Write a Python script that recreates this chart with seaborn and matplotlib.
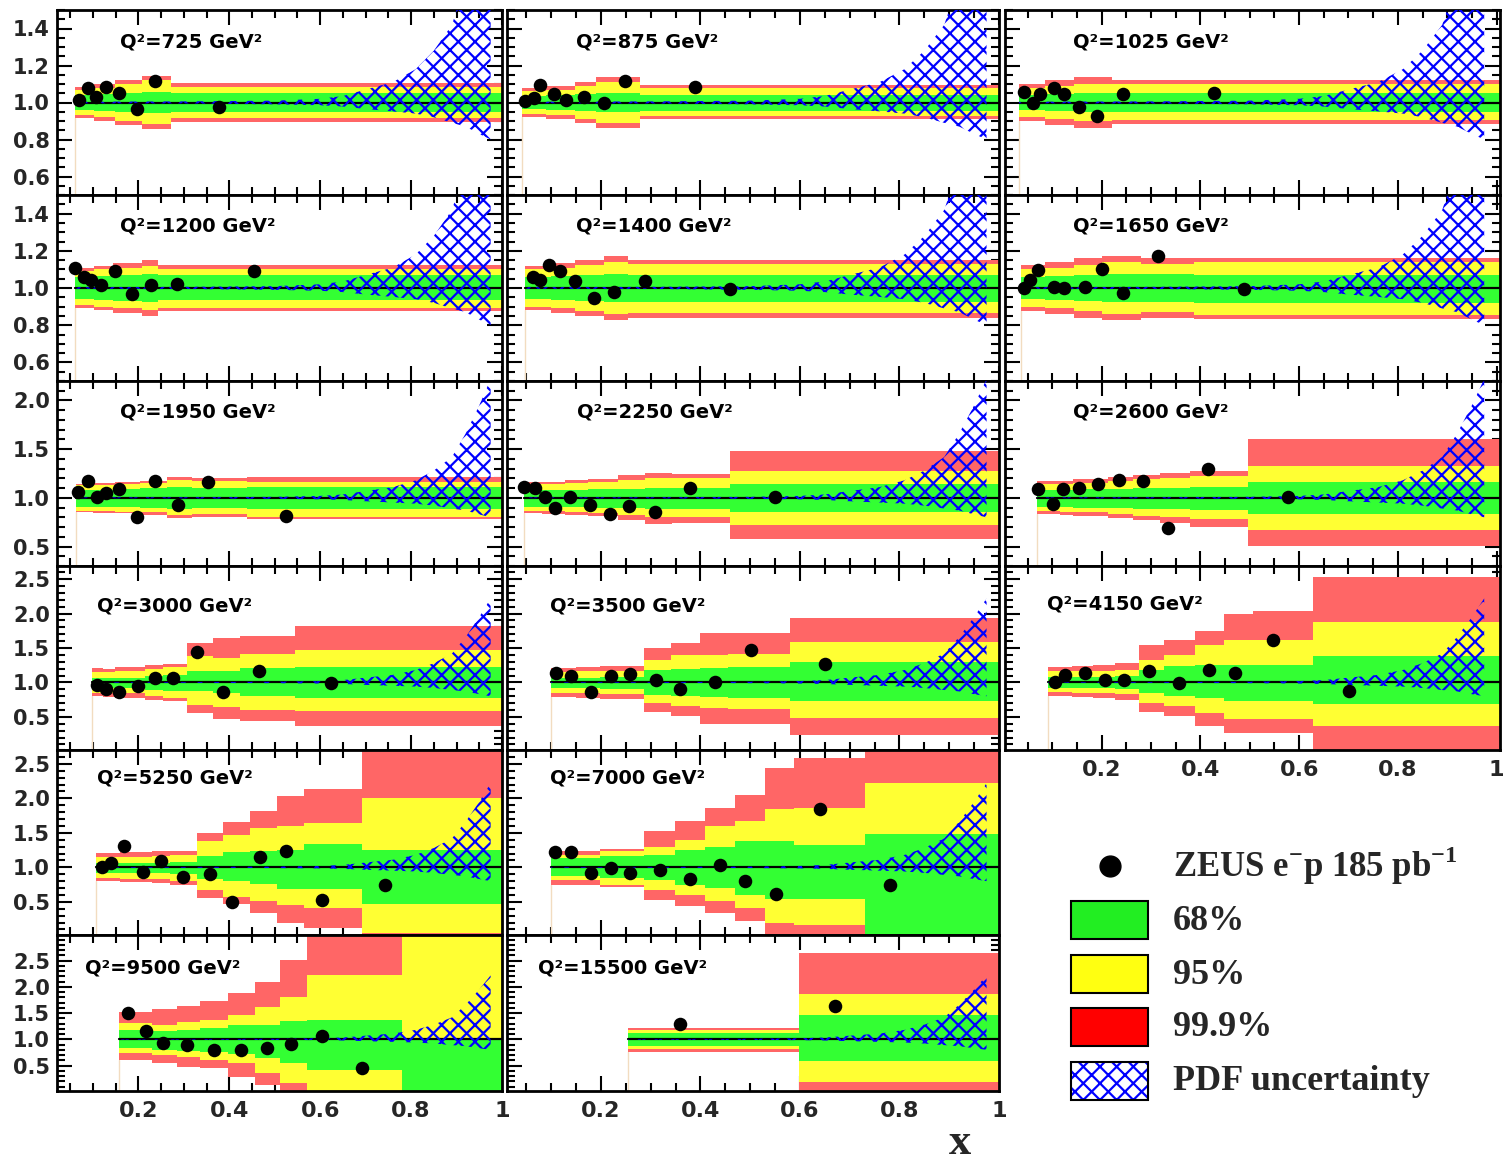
import numpy as np
import matplotlib
matplotlib.use("Agg")
import matplotlib.pyplot as plt
import seaborn as sns
from matplotlib.ticker import FixedLocator, MultipleLocator, FuncFormatter
from matplotlib.patches import Rectangle

# ---------------- data ----------------
# data points: x and ratio data/expectation
x_725 = [0.0685, 0.0896, 0.106, 0.128, 0.157, 0.197, 0.237, 0.377]
r_725 = [1.015, 1.081, 1.032, 1.086, 1.054, 0.964, 1.117, 0.973]
x_875 = [0.048, 0.0655, 0.077, 0.106, 0.129, 0.167, 0.206, 0.248, 0.389]
r_875 = [1.009, 1.027, 1.094, 1.045, 1.013, 1.032, 0.995, 1.117, 1.086]
x_1025 = [0.042, 0.061, 0.075, 0.104, 0.123, 0.153, 0.191, 0.244, 0.428]
r_1025 = [1.058, 1.0, 1.045, 1.076, 1.045, 0.978, 0.928, 1.045, 1.049]
x_1200 = [0.060, 0.081, 0.096, 0.117, 0.149, 0.187, 0.227, 0.286, 0.455]
r_1200 = [1.108, 1.059, 1.041, 1.018, 1.09, 0.97, 1.018, 1.023, 1.093]
x_1400 = [0.0635, 0.077, 0.096, 0.117, 0.148, 0.187, 0.227, 0.289, 0.46]
r_1400 = [1.059, 1.045, 1.126, 1.09, 1.036, 0.946, 0.977, 1.036, 0.995]
x_1650 = [0.042, 0.0555, 0.071, 0.104, 0.123, 0.166, 0.201, 0.244, 0.314, 0.489]
r_1650 = [1.0, 1.041, 1.099, 1.005, 1.0, 1.004, 1.104, 0.973, 1.17, 0.995]
x_1950 = [0.068, 0.090, 0.108, 0.129, 0.158, 0.198, 0.237, 0.287, 0.354, 0.525]
r_1950 = [1.061, 1.17, 1.01, 1.054, 1.088, 0.806, 1.17, 0.925, 1.163, 0.813]
x_2250 = [0.0456, 0.068, 0.0878, 0.108, 0.138, 0.178, 0.218, 0.257, 0.309, 0.379, 0.55]
r_2250 = [1.112, 1.102, 1.01, 0.891, 1.01, 0.925, 0.833, 0.918, 0.857, 1.105, 1.01]
x_2600 = [0.0716, 0.102, 0.122, 0.153, 0.193, 0.234, 0.284, 0.335, 0.416, 0.578]
r_2600 = [1.095, 0.932, 1.095, 1.102, 1.146, 1.18, 1.177, 0.694, 1.3, 1.007]
x_3000 = [0.108, 0.129, 0.158, 0.199, 0.237, 0.277, 0.329, 0.386, 0.466, 0.624]
r_3000 = [0.966, 0.903, 0.86, 0.942, 1.063, 1.063, 1.435, 0.86, 1.16, 0.99]
x_3500 = [0.109, 0.139, 0.18, 0.22, 0.258, 0.31, 0.36, 0.43, 0.501, 0.65]
r_3500 = [1.135, 1.097, 0.86, 1.097, 1.126, 1.029, 0.908, 1.0, 1.464, 1.266]
x_4150 = [0.105, 0.126, 0.166, 0.207, 0.246, 0.296, 0.357, 0.417, 0.470, 0.548, 0.701]
r_4150 = [1.01, 1.111, 1.135, 1.039, 1.029, 1.169, 0.99, 1.184, 1.135, 1.609, 0.87]
x_5250 = [0.119, 0.14, 0.169, 0.21, 0.25, 0.298, 0.358, 0.407, 0.468, 0.525, 0.604, 0.743]
r_5250 = [1.0, 1.063, 1.314, 0.932, 1.087, 0.86, 0.908, 0.498, 1.15, 1.232, 0.522, 0.739]
x_7000 = [0.108, 0.139, 0.18, 0.22, 0.258, 0.319, 0.379, 0.439, 0.489, 0.551, 0.64, 0.78]
r_7000 = [1.222, 1.222, 0.918, 0.99, 0.918, 0.966, 0.836, 1.029, 0.797, 0.618, 1.85, 0.739]
x_9500 = [0.178, 0.216, 0.255, 0.308, 0.367, 0.4255, 0.483, 0.536, 0.604, 0.693]
r_9500 = [1.495, 1.165, 0.924, 0.892, 0.797, 0.797, 0.841, 0.905, 1.07, 0.448]
x_15500 = [0.36, 0.67]
r_15500 = [1.286, 1.635]

# expectation bands: bin edges and per bin (68% lo, hi, 95% lo, hi, 99.9% lo, hi)
edges_725 = [0.060, 0.102, 0.149, 0.208, 0.271, 1.0]
bands_725 = [(0.960, 1.040, 0.930, 1.070, 0.915, 1.085),
             (0.955, 1.045, 0.920, 1.080, 0.900, 1.100),
             (0.950, 1.050, 0.900, 1.100, 0.880, 1.120),
             (0.945, 1.055, 0.885, 1.120, 0.855, 1.145),
             (0.951, 1.049, 0.914, 1.086, 0.892, 1.103)]
edges_875 = [0.042, 0.090, 0.148, 0.191, 0.279, 1.0]
bands_875 = [(0.965, 1.035, 0.940, 1.060, 0.920, 1.080),
             (0.960, 1.040, 0.930, 1.070, 0.910, 1.090),
             (0.955, 1.045, 0.910, 1.090, 0.890, 1.110),
             (0.950, 1.050, 0.890, 1.110, 0.860, 1.140),
             (0.955, 1.040, 0.928, 1.076, 0.910, 1.094)]
edges_1025 = [0.032, 0.085, 0.143, 0.220, 1.0]
bands_1025 = [(0.960, 1.040, 0.920, 1.080, 0.900, 1.100),
              (0.955, 1.045, 0.910, 1.090, 0.880, 1.120),
              (0.950, 1.050, 0.900, 1.100, 0.860, 1.140),
              (0.946, 1.054, 0.906, 1.100, 0.883, 1.120)]
edges_1200 = [0.060, 0.102, 0.144, 0.208, 0.244, 1.0]
bands_1200 = [(0.940, 1.060, 0.910, 1.090, 0.890, 1.110),
              (0.935, 1.065, 0.900, 1.100, 0.880, 1.120),
              (0.930, 1.070, 0.890, 1.110, 0.865, 1.135),
              (0.925, 1.075, 0.880, 1.120, 0.850, 1.150),
              (0.937, 1.070, 0.892, 1.104, 0.874, 1.126)]
edges_1400 = [0.048, 0.100, 0.148, 0.206, 0.254, 1.0]
bands_1400 = [(0.940, 1.060, 0.900, 1.100, 0.880, 1.120),
              (0.935, 1.065, 0.890, 1.110, 0.865, 1.135),
              (0.930, 1.070, 0.875, 1.125, 0.850, 1.150),
              (0.925, 1.075, 0.860, 1.140, 0.830, 1.170),
              (0.923, 1.072, 0.865, 1.130, 0.840, 1.152)]
edges_1650 = [0.036, 0.085, 0.143, 0.201, 0.279, 0.386, 1.0]
bands_1650 = [(0.940, 1.060, 0.900, 1.100, 0.875, 1.125),
              (0.935, 1.065, 0.890, 1.110, 0.860, 1.140),
              (0.930, 1.070, 0.875, 1.125, 0.840, 1.160),
              (0.925, 1.075, 0.860, 1.140, 0.830, 1.170),
              (0.925, 1.075, 0.870, 1.130, 0.840, 1.160),
              (0.919, 1.072, 0.857, 1.138, 0.833, 1.160)]
edges_1950 = [0.063, 0.101, 0.149, 0.204, 0.263, 0.318, 0.439, 1.0]
bands_1950 = [(0.910, 1.080, 0.865, 1.130, 0.850, 1.145),
              (0.910, 1.085, 0.860, 1.135, 0.845, 1.150),
              (0.905, 1.090, 0.855, 1.140, 0.840, 1.160),
              (0.900, 1.100, 0.850, 1.150, 0.825, 1.175),
              (0.890, 1.110, 0.820, 1.180, 0.790, 1.210),
              (0.895, 1.105, 0.830, 1.170, 0.800, 1.200),
              (0.890, 1.112, 0.806, 1.163, 0.782, 1.214)]
edges_2250 = [0.0456, 0.081, 0.128, 0.175, 0.235, 0.289, 0.342, 0.459, 1.0]
bands_2250 = [(0.910, 1.080, 0.870, 1.140, 0.840, 1.160),
              (0.910, 1.080, 0.860, 1.145, 0.835, 1.165),
              (0.905, 1.085, 0.850, 1.150, 0.820, 1.180),
              (0.900, 1.090, 0.840, 1.160, 0.810, 1.190),
              (0.895, 1.095, 0.820, 1.180, 0.770, 1.230),
              (0.890, 1.100, 0.800, 1.200, 0.730, 1.260),
              (0.890, 1.100, 0.800, 1.200, 0.740, 1.250),
              (0.850, 1.146, 0.721, 1.272, 0.578, 1.486)]
edges_2600 = [0.068, 0.1155, 0.1425, 0.213, 0.264, 0.318, 0.379, 0.497, 1.0]
bands_2600 = [(0.910, 1.085, 0.860, 1.140, 0.830, 1.170),
              (0.910, 1.085, 0.855, 1.145, 0.825, 1.170),
              (0.900, 1.090, 0.850, 1.150, 0.810, 1.190),
              (0.895, 1.095, 0.830, 1.170, 0.790, 1.210),
              (0.890, 1.100, 0.810, 1.190, 0.770, 1.230),
              (0.885, 1.105, 0.800, 1.200, 0.740, 1.260),
              (0.880, 1.110, 0.780, 1.220, 0.700, 1.280),
              (0.830, 1.163, 0.670, 1.327, 0.510, 1.600)]
edges_3000 = [0.097, 0.123, 0.149, 0.215, 0.255, 0.307, 0.365, 0.424, 0.545, 1.0]
bands_3000 = [(0.920, 1.060, 0.850, 1.150, 0.800, 1.210),
              (0.920, 1.060, 0.850, 1.150, 0.790, 1.200),
              (0.915, 1.065, 0.840, 1.160, 0.780, 1.220),
              (0.890, 1.100, 0.800, 1.200, 0.750, 1.260),
              (0.870, 1.110, 0.770, 1.220, 0.725, 1.270),
              (0.870, 1.160, 0.676, 1.377, 0.556, 1.570),
              (0.850, 1.160, 0.650, 1.350, 0.469, 1.643),
              (0.797, 1.208, 0.604, 1.415, 0.435, 1.676),
              (0.773, 1.222, 0.580, 1.473, 0.372, 1.820)]
edges_3500 = [0.099, 0.151, 0.198, 0.287, 0.340, 0.399, 0.456, 0.580, 1.0]
bands_3500 = [(0.920, 1.065, 0.850, 1.150, 0.790, 1.210),
              (0.920, 1.065, 0.850, 1.160, 0.780, 1.220),
              (0.910, 1.075, 0.830, 1.170, 0.760, 1.240),
              (0.820, 1.180, 0.700, 1.328, 0.565, 1.500),
              (0.800, 1.200, 0.660, 1.400, 0.507, 1.570),
              (0.790, 1.210, 0.630, 1.400, 0.396, 1.725),
              (0.780, 1.220, 0.620, 1.410, 0.396, 1.725),
              (0.725, 1.290, 0.483, 1.580, 0.242, 1.930)]
edges_4150 = [0.0905, 0.139, 0.183, 0.227, 0.276, 0.326, 0.389, 0.448, 0.507, 0.629, 1.0]
bands_4150 = [(0.920, 1.080, 0.860, 1.160, 0.800, 1.220),
              (0.920, 1.080, 0.850, 1.160, 0.790, 1.240),
              (0.915, 1.085, 0.840, 1.170, 0.780, 1.260),
              (0.910, 1.090, 0.830, 1.180, 0.750, 1.280),
              (0.845, 1.180, 0.700, 1.328, 0.565, 1.546),
              (0.800, 1.240, 0.660, 1.400, 0.507, 1.618),
              (0.770, 1.250, 0.556, 1.546, 0.372, 1.754),
              (0.725, 1.256, 0.470, 1.620, 0.266, 2.000),
              (0.725, 1.256, 0.470, 1.620, 0.266, 2.030),
              (0.690, 1.377, 0.362, 1.884, -0.50, 2.536)]
edges_5250 = [0.107, 0.160, 0.2295, 0.270, 0.329, 0.387, 0.446, 0.505, 0.565, 0.692, 1.0]
bands_5250 = [(0.920, 1.065, 0.840, 1.150, 0.800, 1.210),
              (0.920, 1.065, 0.835, 1.150, 0.790, 1.220),
              (0.915, 1.070, 0.830, 1.160, 0.770, 1.230),
              (0.910, 1.075, 0.800, 1.180, 0.740, 1.240),
              (0.836, 1.160, 0.667, 1.377, 0.556, 1.500),
              (0.797, 1.222, 0.565, 1.473, 0.469, 1.657),
              (0.758, 1.240, 0.507, 1.570, 0.338, 1.810),
              (0.690, 1.256, 0.450, 1.600, 0.193, 2.030),
              (0.690, 1.338, 0.410, 1.643, 0.120, 2.140),
              (0.469, 1.256, 0.050, 2.000, -0.50, 3.000)]
edges_7000 = [0.099, 0.151, 0.198, 0.287, 0.349, 0.409, 0.469, 0.529, 0.589, 0.730, 1.0]
bands_7000 = [(0.870, 1.135, 0.820, 1.180, 0.750, 1.240),
              (0.870, 1.135, 0.815, 1.175, 0.745, 1.230),
              (0.845, 1.160, 0.750, 1.230, 0.710, 1.270),
              (0.820, 1.180, 0.676, 1.300, 0.530, 1.520),
              (0.750, 1.256, 0.600, 1.400, 0.435, 1.667),
              (0.700, 1.300, 0.517, 1.594, 0.338, 1.860),
              (0.604, 1.377, 0.410, 1.667, 0.217, 2.050),
              (0.546, 1.377, 0.193, 1.850, -0.20, 2.440),
              (0.546, 1.330, 0.170, 1.860, -0.20, 2.585),
              (-0.20, 1.483, -0.30, 2.220, -0.40, 3.000)]
edges_9500 = [0.158, 0.2295, 0.285, 0.336, 0.398, 0.457, 0.512, 0.571, 0.780, 1.0]
bands_9500 = [(0.830, 1.178, 0.733, 1.305, 0.606, 1.527),
              (0.800, 1.150, 0.700, 1.280, 0.556, 1.570),
              (0.780, 1.178, 0.667, 1.330, 0.480, 1.635),
              (0.750, 1.210, 0.610, 1.370, 0.448, 1.737),
              (0.720, 1.273, 0.540, 1.460, 0.290, 1.889),
              (0.638, 1.273, 0.352, 1.620, 0.130, 2.100),
              (0.543, 1.356, 0.160, 1.813, -0.30, 2.520),
              (0.416, 1.368, -0.30, 2.225, -0.50, 3.500),
              (-0.50, 1.000, -0.50, 3.500, -0.50, 3.500)]
edges_15500 = [0.255, 0.598, 1.0]
bands_15500 = [(0.873, 1.114, 0.810, 1.178, 0.765, 1.210),
               (0.594, 1.463, 0.194, 1.864, -0.30, 2.650)]

# PDF uncertainty band (shared shape)
pdf_x = [0.03, 0.30, 0.50, 0.60, 0.65, 0.70, 0.76, 0.81, 0.85, 0.89, 0.92, 0.95, 0.975]
pdf_hi = [1.004, 1.006, 1.010, 1.020, 1.035, 1.070, 1.110, 1.180, 1.280, 1.420, 1.660, 1.950, 2.220]
pdf_lo = [0.996, 0.995, 0.990, 0.985, 0.978, 0.965, 0.952, 0.940, 0.920, 0.890, 0.870, 0.830, 0.800]

legend_labels = [r"ZEUS e$^{\mathbf{-}}$p 185 pb$^{\mathbf{-1}}$", "68%", "95%", "99.9%",
                 "PDF uncertainty"]

# ---------------- layout / style ----------------
W, H = 1503, 1165
COLS = [(57, 502), (507, 999), (1005, 1500)]
ROWS = [(10, 195), (195, 381), (381, 566), (566, 750), (750, 935), (935, 1091)]
XLIMS = [(0.0209, 1.0), (0.0114, 1.0), (0.004, 1.007)]
YLIMS = [(0.5, 1.5), (0.5, 1.5), (0.3, 2.2), (0.02, 2.69), (0.02, 2.7), (0.015, 2.99)]
Y_MAJOR = [[0.6, 0.8, 1.0, 1.2, 1.4], [0.6, 0.8, 1.0, 1.2, 1.4], [0.5, 1.0, 1.5, 2.0],
           [0.5, 1.0, 1.5, 2.0, 2.5], [0.5, 1.0, 1.5, 2.0, 2.5], [0.5, 1.0, 1.5, 2.0, 2.5]]
Y_MINOR = [0.05, 0.05, 0.1, 0.1, 0.1, 0.1]

PANELS = [
    (725, 0, 0, x_725, r_725, edges_725, bands_725, (120, 47)),
    (875, 0, 1, x_875, r_875, edges_875, bands_875, (576, 47)),
    (1025, 0, 2, x_1025, r_1025, edges_1025, bands_1025, (1073, 47)),
    (1200, 1, 0, x_1200, r_1200, edges_1200, bands_1200, (120, 231)),
    (1400, 1, 1, x_1400, r_1400, edges_1400, bands_1400, (576, 231)),
    (1650, 1, 2, x_1650, r_1650, edges_1650, bands_1650, (1073, 231)),
    (1950, 2, 0, x_1950, r_1950, edges_1950, bands_1950, (120, 417)),
    (2250, 2, 1, x_2250, r_2250, edges_2250, bands_2250, (577, 417)),
    (2600, 2, 2, x_2600, r_2600, edges_2600, bands_2600, (1073, 417)),
    (3000, 3, 0, x_3000, r_3000, edges_3000, bands_3000, (97, 611)),
    (3500, 3, 1, x_3500, r_3500, edges_3500, bands_3500, (550, 611)),
    (4150, 3, 2, x_4150, r_4150, edges_4150, bands_4150, (1047, 610)),
    (5250, 4, 0, x_5250, r_5250, edges_5250, bands_5250, (97, 783)),
    (7000, 4, 1, x_7000, r_7000, edges_7000, bands_7000, (550, 783)),
    (9500, 5, 0, x_9500, r_9500, edges_9500, bands_9500, (85, 974)),
    (15500, 5, 1, x_15500, r_15500, edges_15500, bands_15500, (538, 974)),
]
XLABEL_PANELS = {(5, 0), (5, 1), (3, 2)}

GRN, YEL, RED, BLUE = "#33ff33", "#ffff33", "#ff6666", "#0000ff"

sns.set_theme(style="ticks")
plt.rcParams["font.family"] = ["DejaVu Sans"]
plt.rcParams["hatch.linewidth"] = 1.6
plt.rcParams["hatch.color"] = BLUE
plt.rcParams["axes.linewidth"] = 2.0
plt.rcParams["mathtext.fontset"] = "custom"
plt.rcParams["mathtext.rm"] = "Liberation Serif:bold"
plt.rcParams["mathtext.bf"] = "Liberation Serif:bold"

fig = plt.figure(figsize=(W / 100, H / 100), dpi=100)
fig.patch.set_facecolor("white")


def rect(col, row):
    l, r = COLS[col]
    t, b = ROWS[row]
    return [l / W, 1 - b / H, (r - l) / W, (b - t) / H]


xfmt = FuncFormatter(lambda v, p: "1" if abs(v - 1) < 1e-6 else f"{v:.1f}")
yfmt = FuncFormatter(lambda v, p: f"{v:.1f}")

for q2, row, col, xs, rs, edges, bands, tpos in PANELS:
    ax = fig.add_axes(rect(col, row))
    ax.set_facecolor("white")
    xlo, xhi = XLIMS[col]
    ylo, yhi = YLIMS[row]
    e = np.asarray(edges, float)
    e[-1] = max(e[-1], xhi)
    b = np.asarray(bands, float)
    # faint start line
    ax.plot([e[0], e[0]], [ylo - 1, b[0, 4]], color="#f2dcc0", lw=1.0, zorder=1)
    for lo_i, hi_i, c in ((4, 5, RED), (2, 3, YEL), (0, 1, GRN)):
        lo = np.append(b[:, lo_i], b[-1, lo_i])
        hi = np.append(b[:, hi_i], b[-1, hi_i])
        ax.fill_between(e, lo, hi, step="post", color=c, lw=0, zorder=1)
    ax.plot([e[0], xhi], [1, 1], color="black", lw=1.6, zorder=2)
    poly = ax.fill_between(pdf_x, pdf_lo, pdf_hi, facecolor="none", edgecolor=BLUE,
                           hatch="xx", lw=0, zorder=3)
    poly.set_clip_path(Rectangle((e[0], ylo), xhi - e[0], yhi - ylo, transform=ax.transData))
    sns.scatterplot(x=xs, y=rs, ax=ax, color="black", s=95, linewidth=0, zorder=5, legend=False)
    ax.set_xlabel("")
    ax.set_ylabel("")
    ax.set_xlim(xlo, xhi)
    ax.set_ylim(ylo, yhi)
    ax.xaxis.set_major_locator(FixedLocator([0.2, 0.4, 0.6, 0.8, 1.0]))
    ax.xaxis.set_minor_locator(MultipleLocator(0.05))
    ax.yaxis.set_major_locator(FixedLocator(Y_MAJOR[row]))
    ax.yaxis.set_minor_locator(MultipleLocator(Y_MINOR[row]))
    ax.xaxis.set_major_formatter(xfmt)
    ax.yaxis.set_major_formatter(yfmt)
    ax.tick_params(which="both", direction="in", top=True, right=True, bottom=True, left=True,
                   width=1.5, color="black")
    ax.tick_params(which="major", length=11)
    ax.tick_params(which="minor", length=6)
    ax.tick_params(axis="y", labelleft=(col == 0), pad=5, labelsize=15)
    ax.tick_params(axis="x", labelbottom=((row, col) in XLABEL_PANELS), pad=7, labelsize=16)
    for lab in ax.get_xticklabels() + ax.get_yticklabels():
        lab.set_fontweight("bold")
    for s in ax.spines.values():
        s.set_color("black")
        s.set_linewidth(2.0)

# overlay in pixel coordinates for titles, legend, axis label
lax = fig.add_axes([0, 0, 1, 1], zorder=20)
lax.set_xlim(0, W)
lax.set_ylim(H, 0)
lax.axis("off")
lax.patch.set_alpha(0)

for q2, row, col, xs, rs, edges, bands, tpos in PANELS:
    lax.text(tpos[0], tpos[1], f"Q\u00b2={q2} GeV\u00b2", fontsize=14, fontweight="bold",
             ha="left", va="baseline", color="black")

serif = ["Liberation Serif", "DejaVu Serif"]
lax.plot([1110], [866], "o", ms=15, color="black")
lax.text(1173, 877, legend_labels[0], fontsize=25, fontweight="bold", family=serif,
         ha="left", va="baseline")
box_specs = [(901, "#22ee22"), (955, "#ffff11"), (1008, "#ff0000")]
for (ytop, c), lab in zip(box_specs, legend_labels[1:4]):
    lax.add_patch(Rectangle((1071, ytop), 77, 38, facecolor=c, edgecolor="black", lw=1.5))
    lax.text(1173, ytop + 20, lab, fontsize=26, fontweight="bold", family=serif,
             ha="left", va="center")
lax.add_patch(Rectangle((1071, 1062), 77, 38, facecolor="white", edgecolor=BLUE, hatch="xx", lw=0))
lax.add_patch(Rectangle((1071, 1062), 77, 38, facecolor="none", edgecolor="black", lw=1.5))
lax.text(1173, 1081, legend_labels[4], fontsize=26, fontweight="bold", family=serif,
         ha="left", va="center")

lax.text(960, 1154, "x", fontsize=32, fontweight="bold", family=serif, ha="center",
         va="baseline")

fig.savefig("out.png", dpi=100, facecolor="white")
